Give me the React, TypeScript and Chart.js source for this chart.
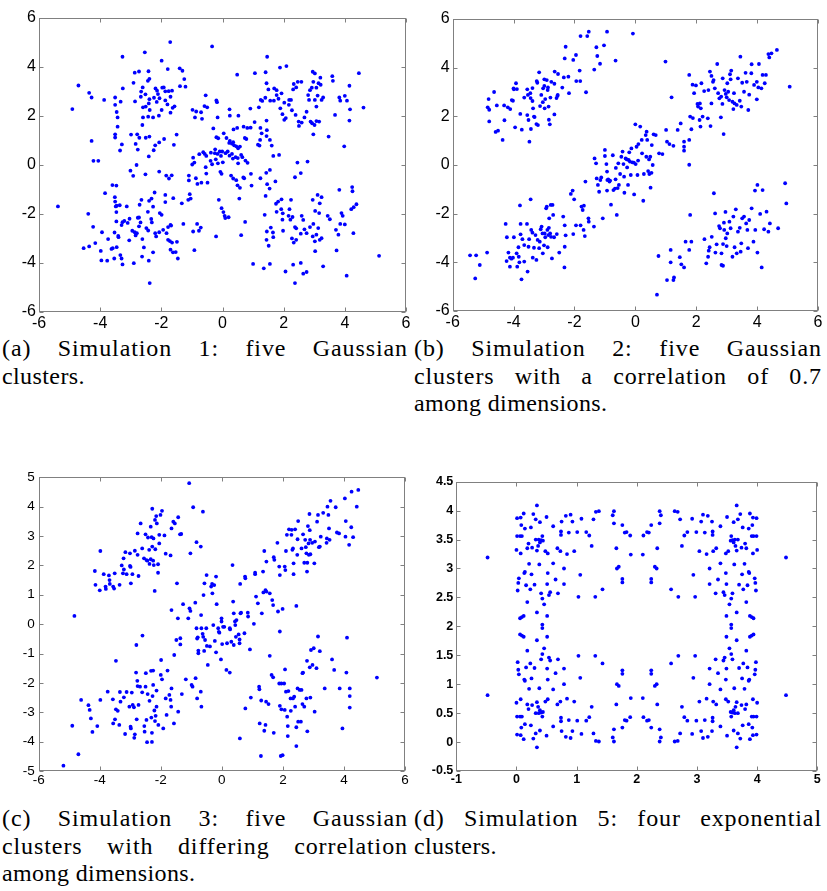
import React, { useEffect, useRef } from 'react';
import { Chart, registerables } from 'chart.js';

Chart.register(...registerables);

type Pt = [number, number];

// ---------- Simulation 1 (a) ----------
const sim1TopLeft: Pt[] = [[-4.71,3.23],[-4.91,2.27],[-4.36,2.93],[-4.28,2.74],[-4.28,0.97],[-4.22,0.16],[-4.06,0.16],[-3.87,2.64],[-3.51,2.74],[-3.33,2.57],[-3.27,4.40],[-3.26,3.11],[-3.51,2.44],[-3.46,2.15],[-3.43,1.93],[-3.43,1.55],[-3.51,1.24],[-3.51,1.11],[-3.35,0.58],[-3.29,0.83],[-2.91,3.34],[-2.87,3.75],[-2.73,3.80],[-2.42,3.81],[-2.39,3.50],[-2.44,3.42],[-2.54,4.58],[-1.99,4.24],[-1.71,5.00],[-1.79,3.90],[-1.40,3.93],[-1.31,3.83],[-1.25,3.49],[-1.21,3.18],[-1.39,3.20],[-2.66,2.98],[-2.61,3.15],[-2.67,2.77],[-2.52,2.87],[-2.39,2.67],[-2.41,2.50],[-2.19,3.11],[-2.14,3.02],[-1.97,3.14],[-1.92,3.15],[-1.87,2.99],[-1.76,3.00],[-1.65,3.02],[-1.70,2.77],[-2.24,2.73],[-2.11,2.88],[-2.06,2.71],[-2.15,2.56],[-1.87,2.62],[-1.80,2.46],[-1.63,2.32],[-1.57,2.38],[-1.70,2.12],[-2.86,2.58],[-2.60,2.34],[-2.51,2.37],[-2.38,2.23],[-2.60,1.93],[-2.43,1.96],[-2.27,1.93],[-2.62,1.62],[-1.99,2.23],[-2.08,2.00],[-2.99,1.23],[-2.79,1.24],[-2.72,1.10],[-2.51,1.10],[-2.84,0.85],[-2.77,0.62],[-2.39,1.15],[-2.41,0.34],[-2.20,0.79],[-2.07,0.91],[-1.91,1.05],[-2.25,0.59],[-1.59,0.81],[-1.50,1.23],[-2.81,-0.01],[-3.01,-0.24],[-2.92,-0.45],[-2.52,-0.39],[-2.07,-0.28],[-1.75,-0.56],[-1.66,-0.43],[-1.84,-0.44]];
const sim1BottomLeft: Pt[] = [[-5.38,-1.70],[-3.60,-0.83],[-3.47,-0.85],[-3.84,-1.16],[-3.52,-1.32],[-3.51,-1.50],[-3.46,-1.67],[-4.39,-2.00],[-4.23,-2.53],[-4.16,-3.19],[-4.54,-3.40],[-4.36,-3.33],[-3.94,-2.75],[-3.98,-3.51],[-3.96,-3.90],[-3.77,-3.91],[-3.74,-3.03],[-3.63,-3.43],[-3.59,-3.40],[-3.46,-3.36],[-3.53,-2.76],[-3.41,-2.90],[-3.40,-2.95],[-3.54,-3.82],[-3.49,-1.70],[-3.47,-1.93],[-3.47,-2.31],[-3.36,-1.65],[-3.27,-2.34],[-3.30,-2.46],[-3.34,-3.68],[-3.30,-3.82],[-3.27,-4.06],[-3.21,-2.29],[-3.13,-1.70],[-3.10,-2.37],[-3.05,-3.08],[-3.04,-2.20],[-2.95,-2.69],[-2.87,-2.75],[-2.90,-4.01],[-2.84,-2.88],[-2.80,-2.79],[-2.71,-1.63],[-2.65,-1.43],[-2.73,-2.15],[-2.68,-2.35],[-2.62,-3.03],[-2.57,-3.37],[-2.63,-3.74],[-2.77,-2.16],[-2.73,-2.51],[-2.49,-2.58],[-2.43,-2.68],[-2.41,-3.91],[-2.38,-4.82],[-2.44,-1.92],[-2.40,-1.47],[-2.32,-1.38],[-2.22,-1.13],[-2.27,-1.71],[-2.33,-2.21],[-2.31,-2.35],[-2.20,-2.79],[-2.17,-2.92],[-2.27,-3.57],[-2.07,-2.75],[-2.05,-1.97],[-1.99,-2.04],[-1.94,-2.65],[-1.87,-1.23],[-1.87,-1.52],[-1.83,-2.79],[-1.78,-2.54],[-1.70,-2.45],[-1.68,-2.48],[-1.78,-3.06],[-1.72,-3.11],[-1.65,-3.17],[-1.70,-3.46],[-1.62,-3.57],[-1.53,-3.56],[-1.49,-3.14],[-1.46,-3.82],[-1.61,-1.36],[-1.33,-1.57],[-1.28,-2.41],[-1.04,-1.38],[-1.12,-1.43],[-1.07,-1.20],[-0.96,-2.72],[-0.92,-3.48],[-0.83,-2.41],[-0.71,-2.56],[-0.77,-2.69]];
const sim1Center: Pt[] = [[-0.98,2.24],[-0.86,2.17],[-0.90,1.93],[-0.70,2.14],[-0.59,2.39],[-0.50,2.34],[-0.67,1.87],[-0.55,2.83],[-0.34,4.82],[-0.20,2.62],[-0.18,2.55],[-0.16,1.93],[-0.30,1.48],[-0.96,0.29],[-0.92,0.09],[-0.99,0.01],[-0.76,0.43],[-0.63,0.51],[-0.58,0.44],[-0.53,0.36],[-0.38,0.49],[-1.10,-0.44],[-1.10,-0.64],[-0.87,-0.55],[-0.82,-0.78],[-0.69,-0.73],[-0.53,-0.36],[-0.49,-0.73],[-0.55,-0.10],[-0.39,0.16],[-0.34,0.02],[-0.22,0.22],[-0.25,0.47],[-0.16,0.44],[-0.15,0.06],[-0.09,0.54],[-0.01,0.54],[-0.05,0.36],[0.01,0.10],[-0.07,-0.29],[-0.03,-0.37],[-0.20,1.12],[-0.14,1.08],[-0.24,0.63],[0.04,1.28],[0.13,1.09],[0.24,0.97],[0.22,0.89],[0.31,0.86],[0.35,0.92],[0.38,0.79],[0.45,0.75],[0.51,0.67],[0.57,0.74],[0.10,0.47],[0.17,0.54],[0.23,0.37],[0.31,0.44],[0.34,0.25],[0.43,0.31],[0.50,0.27],[0.51,0.06],[0.61,0.40],[0.65,0.31],[0.75,0.17],[0.82,0.08],[0.24,2.00],[0.23,2.26],[0.52,2.00],[0.48,3.67],[0.36,1.44],[0.48,1.50],[0.69,1.55],[0.81,1.50],[0.92,1.51],[0.91,2.29],[0.73,1.09],[0.78,1.05],[1.05,1.74],[0.28,-0.44],[0.35,-0.56],[0.45,-0.63],[0.49,-0.84],[0.57,-0.94],[0.55,-1.38],[0.71,-0.55],[0.93,-0.37],[0.95,-0.85],[0.68,-0.52],[0.61,-2.87],[-0.12,-1.43],[-0.03,-1.77],[0.03,-1.93],[0.07,-2.08],[0.09,-2.17],[0.20,-2.14],[-0.21,-2.92],[0.74,-2.33],[1.16,0.82],[1.21,0.78],[1.28,1.28],[1.24,1.50],[1.23,1.01],[1.44,1.17],[1.45,1.41],[1.55,1.01],[1.61,0.78],[1.43,-0.33],[1.46,-0.79],[1.55,-0.21],[1.66,0.36],[1.85,0.40],[1.41,-1.27],[1.54,-0.97],[1.73,-0.68],[1.24,-0.55]];
const sim1TopRight: Pt[] = [[1.06,3.73],[1.41,3.77],[1.46,4.40],[1.44,3.32],[1.50,3.07],[1.25,2.64],[1.30,2.60],[1.19,2.34],[1.40,2.73],[1.44,1.80],[1.56,2.61],[1.69,3.11],[1.77,3.04],[1.77,2.84],[1.83,2.69],[1.93,2.91],[1.68,2.61],[1.88,3.96],[2.09,4.02],[2.18,2.64],[2.02,2.53],[1.89,2.30],[1.96,2.06],[2.02,1.83],[2.07,1.90],[2.17,2.44],[2.24,2.64],[2.27,2.22],[2.33,3.29],[2.41,3.15],[2.46,3.38],[2.58,3.38],[2.31,3.07],[2.39,2.03],[2.49,1.76],[2.50,1.58],[2.59,1.72],[2.68,1.93],[2.75,2.16],[2.83,2.64],[2.86,3.04],[2.92,3.14],[2.97,3.38],[3.02,3.72],[2.95,3.79],[3.07,3.14],[3.14,3.32],[3.20,3.55],[3.21,3.26],[2.80,2.84],[3.02,2.64],[3.07,2.37],[3.11,2.82],[2.88,1.76],[2.93,1.69],[3.01,1.62],[3.07,1.78],[3.16,1.76],[2.97,1.24],[3.24,2.64],[3.59,3.61],[3.61,3.42],[3.29,2.74],[3.68,2.03],[3.47,1.15],[3.82,2.74],[3.85,2.61],[4.00,2.81],[4.07,2.61],[4.15,3.22],[4.17,2.26],[4.15,1.80],[3.98,0.75],[4.46,3.73],[4.61,2.33],[2.45,0.09],[2.56,-0.34],[2.37,-0.51],[2.78,0.13]];
const sim1BottomRight: Pt[] = [[1.00,-4.04],[1.35,-4.22],[1.55,-4.04],[1.51,-3.30],[1.38,-2.04],[1.45,-2.72],[1.44,-3.06],[1.58,-2.56],[1.65,-2.76],[1.66,-2.95],[1.82,-1.50],[1.92,-1.81],[1.97,-1.98],[1.93,-1.41],[1.75,-1.59],[1.77,-1.92],[1.96,-2.24],[1.98,-2.69],[2.06,-4.35],[2.19,-1.81],[2.16,-2.08],[2.24,-1.43],[2.29,-2.13],[2.22,-2.24],[2.27,-3.00],[2.33,-3.17],[2.41,-3.06],[2.37,-2.54],[2.41,-2.59],[2.31,-4.07],[2.37,-4.82],[2.59,-2.08],[2.56,-2.81],[2.64,-2.25],[2.68,-2.63],[2.75,-2.79],[2.86,-2.54],[2.95,-2.92],[2.97,-2.41],[3.02,-3.12],[3.07,-2.85],[2.56,-4.00],[2.64,-4.44],[2.75,-4.37],[2.95,-1.43],[3.11,-1.23],[3.16,-1.97],[3.03,-1.88],[3.18,-1.57],[3.24,-1.32],[3.18,-3.06],[3.24,-2.99],[3.29,-4.14],[3.03,-3.52],[3.13,-2.58],[3.44,-2.08],[3.51,-2.22],[3.71,-2.65],[3.85,-2.41],[3.89,-1.97],[3.93,-2.08],[4.00,-2.43],[3.79,-2.85],[3.73,-3.49],[3.82,-1.02],[4.24,-0.91],[4.25,-1.08],[4.21,-1.81],[4.29,-1.73],[4.38,-1.61],[4.28,-2.79],[4.06,-4.52],[5.12,-3.71]];

// ---------- Simulation 2 (b) ----------
const sim2TopLeft: Pt[] = [[-4.82,2.71],[-4.85,2.37],[-4.80,2.27],[-4.80,1.79],[-4.64,3.00],[-4.55,2.45],[-4.59,1.36],[-4.51,1.41],[-4.36,1.03],[-4.31,2.45],[-4.30,1.84],[-4.19,2.37],[-4.11,2.30],[-4.06,2.67],[-4.02,2.64],[-3.95,1.55],[-4.00,3.15],[-3.92,3.36],[-3.99,3.11],[-3.89,3.12],[-3.78,2.10],[-3.73,1.45],[-3.65,2.77],[-3.55,3.11],[-3.48,0.96],[-3.53,2.88],[-3.44,2.75],[-3.45,2.95],[-3.38,3.16],[-3.38,2.63],[-3.36,2.33],[-3.43,1.48],[-3.55,2.05],[-3.51,1.85],[-3.33,1.99],[-3.31,1.97],[-3.25,1.68],[-3.20,1.64],[-3.16,3.81],[-3.22,3.38],[-3.24,3.45],[-3.09,2.88],[-3.03,3.15],[-2.99,3.52],[-2.99,3.25],[-2.91,3.49],[-2.88,3.08],[-2.87,3.19],[-2.85,2.40],[-2.84,1.86],[-2.81,1.67],[-2.96,2.71],[-3.04,2.58],[-3.13,2.42],[-2.98,2.33],[-2.79,2.77],[-2.76,3.42],[-2.66,3.34],[-2.66,2.08],[-2.59,2.75],[-2.56,2.84],[-2.55,2.88],[-2.65,3.84],[-2.54,3.74],[-2.40,3.18],[-2.35,3.60],[-2.32,4.38],[-2.29,4.86],[-2.20,3.63],[-2.18,2.95],[-2.04,4.32],[-1.95,4.52],[-1.94,3.45],[-1.83,3.88],[-1.81,3.45],[-1.80,5.30],[-1.62,2.99],[-1.58,5.30],[-1.53,5.48],[-1.35,3.92],[-1.28,4.84],[-1.25,4.48],[-1.16,4.16],[-1.03,4.92],[-0.93,5.48],[-0.65,4.29],[-0.08,5.40]];
const sim2BottomLeft: Pt[] = [[-5.43,-3.71],[-5.26,-4.66],[-5.23,-3.71],[-5.11,-4.11],[-4.87,-3.60],[-4.26,-2.42],[-4.22,-2.97],[-4.23,-3.95],[-4.17,-3.60],[-4.12,-3.81],[-4.12,-4.18],[-4.07,-3.85],[-4.02,-3.81],[-3.99,-2.97],[-3.90,-3.63],[-3.88,-4.18],[-3.84,-3.38],[-3.83,-3.77],[-3.81,-4.00],[-3.79,-1.66],[-3.77,-2.42],[-3.77,-2.85],[-3.74,-4.70],[-3.71,-3.05],[-3.65,-3.29],[-3.65,-3.97],[-3.56,-2.42],[-3.54,-4.38],[-3.51,-3.36],[-3.49,-3.05],[-3.44,-1.41],[-3.42,-2.67],[-3.38,-2.78],[-3.37,-3.81],[-3.33,-3.40],[-3.28,-2.88],[-3.25,-3.90],[-3.21,-3.08],[-3.16,-3.42],[-3.14,-3.15],[-3.11,-2.64],[-3.08,-2.53],[-3.05,-2.81],[-3.04,-3.63],[-3.00,-3.30],[-2.98,-2.81],[-2.96,-2.97],[-2.93,-1.78],[-2.91,-1.71],[-2.89,-2.67],[-2.88,-3.38],[-2.86,-2.88],[-2.84,-2.58],[-2.83,-2.19],[-2.80,-2.81],[-2.78,-1.64],[-2.77,-2.95],[-2.74,-3.84],[-2.72,-1.64],[-2.70,-2.05],[-2.67,-2.97],[-2.58,-2.84],[-2.50,-3.60],[-2.37,-2.12],[-2.33,-4.21],[-2.32,-2.48],[-2.32,-3.36],[-2.29,-2.89],[-2.12,-1.19],[-2.06,-1.05],[-2.04,-2.84],[-2.01,-1.41],[-1.95,-2.48],[-1.80,-2.48],[-1.77,-1.71],[-1.73,-1.85],[-1.70,-2.67],[-1.69,-1.67],[-1.66,-2.92],[-1.64,-0.68],[-1.54,-2.19],[-1.53,-2.33],[-1.36,-2.53],[-1.23,-0.82],[-1.19,-1.10],[-1.07,-2.19]];
const sim2Center: Pt[] = [[-1.34,0.27],[-1.29,0.07],[-1.27,-0.55],[-1.15,-0.62],[-1.12,-0.51],[-1.00,0.62],[-1.00,0.37],[-0.95,0.04],[-0.93,-0.27],[-0.92,-0.62],[-0.93,-1.05],[-0.89,-0.59],[-0.85,-0.68],[-0.83,-0.64],[-0.80,-1.63],[-0.74,0.40],[-0.72,-1.03],[-0.67,-0.97],[-0.65,-0.59],[-0.64,-0.12],[-0.61,-2.05],[-0.58,-0.95],[-0.56,0.07],[-0.54,-0.82],[-0.50,-0.37],[-0.46,0.34],[-0.42,0.55],[-0.39,0.04],[-0.37,-0.48],[-0.36,-1.14],[-0.32,0.27],[-0.28,0.23],[-0.27,-0.10],[-0.24,-0.82],[-0.22,0.21],[-0.20,0.52],[-0.18,0.14],[-0.15,-0.41],[-0.13,0.68],[-0.10,0.11],[-0.05,0.10],[-0.04,-1.21],[0.00,1.67],[0.01,0.04],[0.04,0.75],[0.07,-0.41],[0.09,0.18],[0.10,0.86],[0.16,1.58],[0.21,1.03],[0.22,0.48],[0.26,-1.47],[0.28,-0.37],[0.34,1.23],[0.36,0.34],[0.37,1.37],[0.39,1.03],[0.42,-0.25],[0.45,0.23],[0.46,-0.37],[0.49,0.34],[0.50,-0.93],[0.53,-0.32],[0.54,0.82],[0.57,0.00],[0.60,1.26],[0.67,1.23],[0.78,0.48],[0.89,0.45],[0.99,4.25],[1.01,1.44],[1.04,0.96],[1.12,0.86],[1.19,2.78],[1.25,0.79],[1.39,1.44],[1.49,1.71],[1.60,0.96],[1.60,0.75],[1.60,0.59],[1.77,1.03],[1.77,0.01],[1.84,1.47],[1.80,1.99],[1.89,1.93],[2.11,1.85],[2.14,1.58],[2.21,1.99],[2.38,1.92],[2.47,1.60]];
const sim2TopRight: Pt[] = [[1.77,3.70],[1.88,3.30],[1.93,2.95],[1.99,3.27],[2.04,2.51],[2.06,2.40],[2.12,2.53],[2.15,2.33],[2.17,3.36],[2.26,3.04],[2.40,3.08],[2.45,3.84],[2.50,3.66],[2.55,3.42],[2.57,3.49],[2.61,3.15],[2.50,2.53],[2.69,4.15],[2.72,2.95],[2.76,2.74],[2.82,2.81],[2.81,1.96],[2.86,2.51],[2.87,3.56],[2.90,1.27],[2.93,3.08],[2.97,2.92],[3.00,2.78],[3.02,3.36],[3.05,3.01],[3.08,2.67],[3.11,3.73],[3.13,3.52],[3.15,3.88],[3.19,2.60],[3.22,2.30],[3.24,2.95],[3.26,2.53],[3.33,2.47],[3.37,3.56],[3.43,2.64],[3.45,4.45],[3.48,2.40],[3.51,3.38],[3.57,3.01],[3.62,3.79],[3.66,3.42],[3.71,2.26],[3.74,2.89],[3.81,3.77],[3.82,4.14],[3.90,3.29],[3.99,2.70],[3.99,3.42],[4.04,3.19],[4.06,4.15],[4.14,3.15],[4.18,3.70],[4.25,3.36],[4.29,3.70],[4.37,4.56],[4.40,4.42],[4.47,4.59],[4.65,4.73],[5.07,3.22]];
const sim2BottomRight: Pt[] = [[0.76,-3.74],[0.71,-5.33],[1.04,-4.73],[1.16,-3.49],[1.16,-4.00],[1.25,-4.73],[1.27,-4.62],[1.46,-3.79],[1.51,-4.08],[1.60,-4.21],[1.65,-3.15],[1.77,-3.49],[1.80,-2.05],[1.84,-3.15],[2.27,-3.05],[2.33,-4.04],[2.39,-3.77],[2.41,-3.52],[2.44,-3.38],[2.51,-2.95],[2.58,-1.16],[2.62,-1.99],[2.63,-3.60],[2.67,-3.26],[2.75,-2.51],[2.78,-2.60],[2.83,-4.11],[2.83,-3.63],[2.88,-3.25],[2.88,-4.14],[2.91,-2.37],[2.92,-2.67],[2.96,-1.93],[2.97,-3.01],[3.00,-3.33],[3.02,-2.81],[3.09,-2.33],[3.13,-2.60],[3.19,-3.77],[3.22,-2.12],[3.26,-3.38],[3.30,-1.82],[3.33,-3.63],[3.37,-2.74],[3.43,-2.58],[3.46,-3.56],[3.48,-3.22],[3.51,-2.19],[3.57,-2.12],[3.64,-2.40],[3.68,-2.67],[3.70,-3.42],[3.74,-2.26],[3.82,-1.78],[3.88,-3.15],[3.94,-2.67],[3.93,-1.05],[4.01,-0.82],[4.01,-3.60],[4.10,-2.01],[4.15,-4.21],[4.18,-1.03],[4.23,-2.64],[4.31,-1.92],[4.37,-2.74],[4.42,-2.40],[4.69,-2.60],[4.92,-0.75],[4.96,-1.58]];

// ---------- Simulation 3 (c) ----------
const sim3TopLeft: Pt[] = [[-4.83,0.28],[-4.16,1.81],[-4.14,1.34],[-4.00,1.15],[-3.98,2.49],[-3.87,1.70],[-3.81,1.28],[-3.80,1.20],[-3.70,1.66],[-3.68,1.50],[-3.67,1.37],[-3.56,1.28],[-3.53,1.21],[-3.51,1.73],[-3.35,1.34],[-3.28,2.00],[-3.24,1.73],[-3.22,2.24],[-3.21,1.86],[-3.16,2.45],[-3.12,1.70],[-3.01,1.98],[-3.01,2.41],[-2.99,1.95],[-2.98,1.39],[-2.93,1.70],[-2.85,2.50],[-2.76,3.09],[-2.76,2.36],[-2.73,1.64],[-2.66,3.43],[-2.61,2.58],[-2.55,2.24],[-2.50,3.06],[-2.47,2.18],[-2.44,2.16],[-2.42,2.95],[-2.38,2.53],[-2.37,2.05],[-2.33,3.32],[-2.33,2.21],[-2.30,2.96],[-2.28,3.93],[-2.28,2.64],[-2.25,2.16],[-2.24,2.92],[-2.23,2.01],[-2.20,1.13],[-2.19,3.55],[-2.18,2.55],[-2.15,3.68],[-2.13,3.43],[-2.09,2.04],[-2.09,1.75],[-2.05,2.75],[-2.05,3.04],[-2.01,3.72],[-1.96,3.86],[-1.88,3.02],[-1.84,2.40],[-1.68,2.34],[-1.65,3.26],[-1.59,3.49],[-1.54,3.43],[-1.47,1.39],[-1.43,3.64],[-1.37,3.06],[-1.33,3.07],[-1.07,4.80],[-1.03,2.41],[-0.94,3.98],[-0.83,2.79],[-0.69,2.64],[-0.62,3.83]];
const sim3Center: Pt[] = [[-2.60,-0.39],[-2.80,-0.71],[-3.47,-1.25],[-1.99,-1.22],[-1.65,0.48],[-1.56,-1.05],[-1.49,-0.54],[-1.44,0.20],[-1.36,-0.48],[-1.36,-0.69],[-1.27,0.68],[-1.10,0.20],[-1.06,0.54],[-1.03,0.45],[-0.87,0.73],[-0.83,-0.14],[-0.81,-0.49],[-0.79,-0.45],[-0.77,-0.90],[-0.77,-0.99],[-0.68,0.31],[-0.67,-0.14],[-0.63,-0.33],[-0.61,-0.43],[-0.60,0.99],[-0.58,-0.91],[-0.57,1.39],[-0.55,-0.54],[-0.51,-0.14],[-0.50,1.67],[-0.49,-0.74],[-0.46,-1.39],[-0.39,-0.76],[-0.35,1.28],[-0.32,1.37],[-0.31,1.05],[-0.28,-0.03],[-0.25,1.33],[-0.23,-0.57],[-0.19,1.62],[-0.19,-0.96],[-0.17,0.68],[-0.12,-0.14],[-0.10,-0.26],[-0.08,-0.29],[-0.03,-1.20],[-0.01,0.20],[-0.01,0.09],[0.01,-0.68],[0.04,-0.09],[0.08,-0.09],[0.15,-1.56],[0.17,-0.65],[0.26,-1.65],[0.26,-0.14],[0.27,-0.18],[0.31,-0.60],[0.35,2.01],[0.37,0.77],[0.39,0.37],[0.39,-0.71],[0.43,0.09],[0.44,-0.03],[0.46,-0.43],[0.48,0.14],[0.55,-0.35],[0.58,-0.52],[0.60,1.37],[0.58,-0.65],[0.61,0.37],[0.63,0.39],[0.74,-0.31],[0.76,1.62],[0.77,1.56],[0.85,0.39],[0.86,0.26],[0.92,-0.86],[1.05,0.01],[1.09,1.70],[1.09,1.75],[1.12,0.94],[1.18,0.71],[1.31,0.37],[1.36,1.08],[1.43,1.16],[1.46,1.11],[1.57,1.05],[1.65,0.82],[1.68,0.65],[1.84,0.43],[1.90,-0.25],[1.99,0.52],[2.44,0.62]];
const sim3TopRight: Pt[] = [[1.39,2.49],[1.46,2.13],[1.35,1.79],[1.70,2.28],[1.72,2.19],[1.82,2.77],[1.88,1.96],[1.90,1.67],[2.06,1.96],[2.08,1.84],[2.10,2.49],[2.13,3.04],[2.20,3.23],[2.28,3.04],[2.29,3.21],[2.31,2.53],[2.33,2.58],[2.35,1.70],[2.35,2.07],[2.40,3.23],[2.47,2.36],[2.48,2.89],[2.50,3.51],[2.61,2.58],[2.66,3.06],[2.70,2.09],[2.73,2.87],[2.75,2.62],[2.77,2.41],[2.79,1.79],[2.80,2.09],[2.82,3.34],[2.84,2.75],[2.85,2.36],[2.87,3.75],[2.88,3.20],[2.89,2.87],[2.90,2.38],[2.96,2.77],[3.03,2.07],[3.05,2.81],[3.12,3.49],[3.15,3.72],[3.18,2.62],[3.21,2.64],[3.24,2.98],[3.32,3.79],[3.43,2.77],[3.44,2.92],[3.46,4.00],[3.49,3.72],[3.51,3.26],[3.53,2.87],[3.56,4.20],[3.73,3.98],[3.77,3.12],[3.84,3.09],[4.03,4.28],[4.06,3.51],[4.05,2.98],[4.17,2.70],[4.24,3.30],[4.25,4.51],[4.30,2.96],[4.42,4.00],[4.47,4.57]];
const sim3BottomLeft: Pt[] = [[-5.19,-4.82],[-4.90,-3.46],[-4.70,-4.43],[-4.61,-2.58],[-4.37,-2.76],[-4.33,-2.92],[-4.29,-3.21],[-4.24,-3.67],[-4.08,-3.47],[-3.98,-2.58],[-3.74,-2.30],[-3.57,-2.56],[-3.56,-3.38],[-3.50,-3.24],[-3.47,-2.90],[-3.41,-2.95],[-3.36,-3.43],[-3.34,-2.31],[-3.32,-2.64],[-3.21,-2.49],[-3.17,-3.74],[-3.12,-2.31],[-3.03,-2.81],[-2.99,-3.49],[-2.98,-3.55],[-2.95,-2.33],[-2.92,-2.75],[-2.88,-2.83],[-2.87,-3.87],[-2.85,-3.75],[-2.81,-1.65],[-2.79,-3.24],[-2.77,-1.93],[-2.76,-2.11],[-2.73,-2.75],[-2.68,-2.13],[-2.61,-2.32],[-2.54,-3.47],[-2.53,-3.66],[-2.50,-2.13],[-2.49,-1.67],[-2.47,-3.26],[-2.45,-4.02],[-2.43,-2.38],[-2.37,-2.61],[-2.32,-1.59],[-2.31,-3.18],[-2.29,-3.70],[-2.29,-4.01],[-2.27,-2.45],[-2.25,-1.58],[-2.25,-2.07],[-2.21,-2.94],[-2.19,-3.30],[-2.17,-3.12],[-2.14,-2.81],[-2.14,-2.26],[-2.08,-3.43],[-2.00,-1.73],[-1.96,-1.88],[-1.92,-3.55],[-1.84,-2.53],[-1.81,-3.09],[-1.78,-1.58],[-1.72,-2.41],[-1.68,-2.58],[-1.66,-2.81],[-1.65,-2.19],[-1.57,-3.38],[-1.43,-2.98],[-1.31,-2.38],[-1.18,-1.88],[-0.99,-2.07],[-0.96,-2.13],[-0.86,-1.84],[-0.81,-2.53],[-0.69,-2.30],[-0.67,-2.81]];
const sim3BottomRight: Pt[] = [[0.59,-3.89],[0.77,-2.87],[0.95,-2.50],[1.22,-2.13],[1.23,-2.22],[1.24,-3.38],[1.28,-4.49],[1.29,-2.60],[1.39,-3.63],[1.43,-3.43],[1.45,-2.64],[1.53,-2.72],[1.57,-1.08],[1.63,-1.73],[1.68,-1.81],[1.70,-3.70],[1.88,-2.02],[1.90,-2.78],[1.95,-2.02],[1.95,-2.90],[1.93,-4.49],[1.99,-4.46],[2.04,-2.02],[2.06,-2.92],[2.07,-1.54],[2.10,-2.30],[2.14,-3.15],[2.16,-3.47],[2.16,-3.81],[2.18,-2.28],[2.25,-2.53],[2.26,-2.95],[2.33,-2.53],[2.37,-2.47],[2.40,-2.81],[2.44,-4.15],[2.44,-3.51],[2.48,-2.19],[2.50,-3.32],[2.55,-2.24],[2.59,-3.32],[2.61,-2.24],[2.64,-1.67],[2.66,-1.65],[2.64,-2.72],[2.70,-2.81],[2.77,-2.53],[2.79,-1.25],[2.80,-3.65],[2.88,-1.47],[2.90,-2.50],[2.92,-0.88],[2.97,-1.39],[3.01,-0.82],[3.04,-2.98],[3.10,-1.50],[3.15,-0.42],[3.21,-0.92],[3.37,-2.19],[3.61,-1.20],[3.68,-1.56],[3.86,-2.19],[3.95,-3.55],[4.08,-1.65],[4.10,-0.46],[4.19,-2.19],[4.19,-2.45],[4.19,-2.84],[5.08,-1.82]];

// ---------- Simulation 5 (d) ----------
const sim5NearOrigin: Pt[] = [[-0.48,0.81],[0.00,0.68],[0.01,0.44],[0.01,0.13],[0.02,1.38],[0.03,1.25],[0.04,1.17],[0.06,0.44],[0.07,0.12],[0.07,0.74],[0.08,0.25],[0.09,0.44],[0.12,0.05],[0.13,1.08],[0.14,1.06],[0.14,0.31],[0.16,1.29],[0.18,1.58],[0.18,0.65],[0.20,0.57],[0.21,0.92],[0.23,1.36],[0.24,0.29],[0.25,1.10],[0.26,0.64],[0.28,0.06],[0.30,1.28],[0.32,0.50],[0.32,0.15],[0.34,-0.09],[0.34,1.76],[0.34,0.69],[0.36,0.61],[0.37,0.50],[0.38,0.93],[0.39,0.55],[0.39,0.20],[0.41,1.43],[0.41,0.51],[0.43,0.44],[0.43,1.52],[0.44,0.52],[0.46,1.62],[0.48,0.70],[0.50,0.11],[0.51,1.27],[0.51,1.82],[0.52,0.74],[0.52,1.08],[0.54,1.46],[0.56,1.41],[0.61,0.91],[0.61,0.27],[0.65,1.19],[0.68,0.65],[0.69,1.43],[0.73,0.70],[0.74,0.42],[0.74,0.36],[0.75,0.19],[0.79,1.00],[0.79,1.27],[0.82,0.09],[0.84,0.75],[0.87,0.38],[0.90,0.07],[0.93,0.19],[0.96,0.70],[1.01,0.37],[1.03,1.49],[1.06,1.11],[1.08,0.14],[1.16,0.37],[1.21,0.43],[1.25,0.61],[1.28,0.15],[1.31,1.49],[1.32,0.02],[1.37,0.01],[1.43,1.36],[1.60,0.08],[1.62,0.01],[1.62,0.22],[1.66,0.65],[1.67,1.00],[1.70,0.97],[1.76,1.18],[1.76,1.24],[1.76,0.25],[1.80,0.38],[1.83,0.37],[1.90,0.76],[1.89,0.43],[0.06,1.86],[0.09,1.84],[0.12,1.82],[0.43,1.97]];
const sim5TopLeft: Pt[] = [[-0.48,3.19],[0.00,3.32],[0.01,3.56],[0.01,3.87],[0.02,2.62],[0.03,2.75],[0.04,2.83],[0.06,3.56],[0.07,3.88],[0.07,3.26],[0.08,3.75],[0.09,3.56],[0.12,3.95],[0.13,2.92],[0.14,2.94],[0.14,3.69],[0.16,2.71],[0.18,2.42],[0.18,3.35],[0.20,3.43],[0.21,3.08],[0.23,2.64],[0.24,3.71],[0.25,2.90],[0.26,3.36],[0.28,3.94],[0.30,2.72],[0.32,3.50],[0.32,3.85],[0.34,4.09],[0.34,2.24],[0.34,3.31],[0.36,3.39],[0.37,3.50],[0.38,3.07],[0.39,3.45],[0.39,3.80],[0.41,2.57],[0.41,3.49],[0.43,3.56],[0.43,2.48],[0.44,3.48],[0.46,2.38],[0.48,3.30],[0.50,3.89],[0.51,2.73],[0.51,2.18],[0.52,3.26],[0.52,2.92],[0.54,2.54],[0.56,2.59],[0.61,3.09],[0.61,3.73],[0.65,2.81],[0.68,3.35],[0.69,2.57],[0.73,3.30],[0.74,3.58],[0.74,3.64],[0.75,3.81],[0.79,3.00],[0.79,2.73],[0.82,3.91],[0.84,3.25],[0.87,3.62],[0.90,3.93],[0.93,3.81],[0.96,3.30],[1.01,3.63],[1.03,2.51],[1.06,2.89],[1.08,3.86],[1.16,3.63],[1.21,3.57],[1.25,3.39],[1.28,3.85],[1.31,2.51],[1.32,3.98],[1.37,3.99],[1.43,2.64],[1.60,3.92],[1.62,3.99],[1.62,3.78],[1.66,3.35],[1.67,3.00],[1.70,3.03],[1.76,2.82],[1.76,2.76],[1.76,3.75],[1.80,3.62],[1.83,3.63],[1.90,3.24],[1.89,3.57],[0.06,2.14],[0.09,2.16],[0.12,2.18],[0.43,2.03]];
const sim5BottomRight: Pt[] = [[4.48,0.81],[4.00,0.68],[3.99,0.44],[3.99,0.13],[3.98,1.38],[3.97,1.25],[3.96,1.17],[3.94,0.44],[3.93,0.12],[3.93,0.74],[3.92,0.25],[3.91,0.44],[3.88,0.05],[3.87,1.08],[3.86,1.06],[3.86,0.31],[3.84,1.29],[3.82,1.58],[3.82,0.65],[3.80,0.57],[3.79,0.92],[3.77,1.36],[3.76,0.29],[3.75,1.10],[3.74,0.64],[3.72,0.06],[3.70,1.28],[3.68,0.50],[3.68,0.15],[3.66,-0.09],[3.66,1.76],[3.66,0.69],[3.64,0.61],[3.63,0.50],[3.62,0.93],[3.61,0.55],[3.61,0.20],[3.59,1.43],[3.59,0.51],[3.57,0.44],[3.57,1.52],[3.56,0.52],[3.54,1.62],[3.52,0.70],[3.50,0.11],[3.49,1.27],[3.49,1.82],[3.48,0.74],[3.48,1.08],[3.46,1.46],[3.44,1.41],[3.39,0.91],[3.39,0.27],[3.35,1.19],[3.32,0.65],[3.31,1.43],[3.27,0.70],[3.26,0.42],[3.26,0.36],[3.25,0.19],[3.21,1.00],[3.21,1.27],[3.18,0.09],[3.16,0.75],[3.13,0.38],[3.10,0.07],[3.07,0.19],[3.04,0.70],[2.99,0.37],[2.97,1.49],[2.94,1.11],[2.92,0.14],[2.84,0.37],[2.79,0.43],[2.75,0.61],[2.72,0.15],[2.69,1.49],[2.68,0.02],[2.63,0.01],[2.57,1.36],[2.40,0.08],[2.38,0.01],[2.38,0.22],[2.34,0.65],[2.33,1.00],[2.30,0.97],[2.24,1.18],[2.24,1.24],[2.24,0.25],[2.20,0.38],[2.17,0.37],[2.10,0.76],[2.11,0.43],[3.94,1.86],[3.91,1.84],[3.88,1.82],[3.57,1.97]];
const sim5TopRight: Pt[] = [[4.48,3.19],[4.00,3.32],[3.99,3.56],[3.99,3.87],[3.98,2.62],[3.97,2.75],[3.96,2.83],[3.94,3.56],[3.93,3.88],[3.93,3.26],[3.92,3.75],[3.91,3.56],[3.88,3.95],[3.87,2.92],[3.86,2.94],[3.86,3.69],[3.84,2.71],[3.82,2.42],[3.82,3.35],[3.80,3.43],[3.79,3.08],[3.77,2.64],[3.76,3.71],[3.75,2.90],[3.74,3.36],[3.72,3.94],[3.70,2.72],[3.68,3.50],[3.68,3.85],[3.66,4.09],[3.66,2.24],[3.66,3.31],[3.64,3.39],[3.63,3.50],[3.62,3.07],[3.61,3.45],[3.61,3.80],[3.59,2.57],[3.59,3.49],[3.57,3.56],[3.57,2.48],[3.56,3.48],[3.54,2.38],[3.52,3.30],[3.50,3.89],[3.49,2.73],[3.49,2.18],[3.48,3.26],[3.48,2.92],[3.46,2.54],[3.44,2.59],[3.39,3.09],[3.39,3.73],[3.35,2.81],[3.32,3.35],[3.31,2.57],[3.27,3.30],[3.26,3.58],[3.26,3.64],[3.25,3.81],[3.21,3.00],[3.21,2.73],[3.18,3.91],[3.16,3.25],[3.13,3.62],[3.10,3.93],[3.07,3.81],[3.04,3.30],[2.99,3.63],[2.97,2.51],[2.94,2.89],[2.92,3.86],[2.84,3.63],[2.79,3.57],[2.75,3.39],[2.72,3.85],[2.69,2.51],[2.68,3.98],[2.63,3.99],[2.57,2.64],[2.40,3.92],[2.38,3.99],[2.38,3.78],[2.34,3.35],[2.33,3.00],[2.30,3.03],[2.24,2.82],[2.24,2.76],[2.24,3.75],[2.20,3.62],[2.17,3.63],[2.10,3.24],[2.11,3.57],[3.94,2.14],[3.91,2.16],[3.88,2.18],[3.57,2.03]];

// ---------- Captions ----------
const captionA = ['(a) Simulation 1: five Gaussian', 'clusters.'];
const captionB = ['(b) Simulation 2: five Gaussian', 'clusters with a correlation of 0.7', 'among dimensions.'];
const captionC = ['(c) Simulation 3: five Gaussian', 'clusters with differing correlation', 'among dimensions.'];
const captionD = ['(d) Simulation 5: four exponential', 'clusters.'];

const boxPlugin = {
  id: 'matlabBox',
  beforeDatasetsDraw(chart: any) {
    const { ctx, chartArea: a, scales } = chart;
    const L = 4;
    ctx.save();
    ctx.strokeStyle = '#808080';
    ctx.lineWidth = 1;
    const l = Math.round(a.left) + 0.5;
    const r = Math.round(a.right) - 0.5;
    const t = Math.round(a.top) + 0.5;
    const b = Math.round(a.bottom) - 0.5;
    ctx.strokeRect(l, t, r - l, b - t);
    ctx.beginPath();
    for (const tk of scales.x.ticks) {
      const px = Math.round(scales.x.getPixelForValue(tk.value)) + 0.5;
      ctx.moveTo(px, b); ctx.lineTo(px, b - L);
      ctx.moveTo(px, t); ctx.lineTo(px, t + L);
    }
    for (const tk of scales.y.ticks) {
      const py = Math.round(scales.y.getPixelForValue(tk.value)) + 0.5;
      ctx.moveTo(l, py); ctx.lineTo(l + L, py);
      ctx.moveTo(r, py); ctx.lineTo(r - L, py);
    }
    ctx.stroke();
    ctx.restore();
  },
};

type PanelProps = {
  left: number; top: number; width: number; height: number;
  series: Pt[][];
  xr: [number, number, number]; yr: [number, number, number];
  padTop: number; padRight: number; yW: number; xH: number;
  fontSize: number; bold?: boolean; padX: number; padY: number;
};

const fmt = (v: any) => String(Math.round(Number(v) * 100) / 100);

function Panel(p: PanelProps) {
  const ref = useRef<HTMLCanvasElement>(null);
  useEffect(() => {
    const font = { family: 'Arial, "Liberation Sans", Helvetica, sans-serif', size: p.fontSize, weight: p.bold ? 'bold' : 'normal' } as any;
    const pts = p.series.flat().map(([x, y]) => ({ x, y }));
    const chart = new Chart(ref.current as HTMLCanvasElement, {
      type: 'scatter',
      data: { datasets: [{ data: pts, backgroundColor: '#0000ff', borderWidth: 0, pointRadius: 1.9, pointHoverRadius: 1.9 }] },
      options: {
        responsive: false,
        animation: false,
        devicePixelRatio: 1,
        events: [],
        layout: { padding: { top: p.padTop, right: p.padRight, left: 0, bottom: 0 } },
        plugins: { legend: { display: false }, tooltip: { enabled: false } },
        scales: {
          x: {
            type: 'linear', min: p.xr[0], max: p.xr[1],
            grid: { display: false, drawTicks: false }, border: { display: false },
            ticks: { stepSize: p.xr[2], autoSkip: false, maxRotation: 0, color: '#000', font, padding: p.padX, callback: fmt },
            afterFit: (s: any) => { s.height = p.xH; },
          },
          y: {
            type: 'linear', min: p.yr[0], max: p.yr[1],
            grid: { display: false, drawTicks: false }, border: { display: false },
            ticks: { stepSize: p.yr[2], autoSkip: false, color: '#000', font, padding: p.padY, callback: fmt },
            afterFit: (s: any) => { s.width = p.yW; },
          },
        },
      } as any,
      plugins: [boxPlugin],
    });
    return () => chart.destroy();
  }, []);
  return (
    <canvas ref={ref} width={p.width} height={p.height}
      style={{ position: 'absolute', left: p.left, top: p.top, width: p.width, height: p.height }} />
  );
}

function Caption({ left, top, width, lines }: { left: number; top: number; width: number; lines: string[] }) {
  return (
    <div style={{
      position: 'absolute', left, top, width,
      fontFamily: '"Liberation Serif", "Times New Roman", serif', fontSize: 24, lineHeight: '27.5px',
      color: '#000',
    }}>
      {lines.map((ln, i) => {
        const full = i < lines.length - 1;
        return (
          <div key={i} style={{
            textAlign: full ? 'justify' : 'left', textAlignLast: full ? 'justify' : 'left',
            letterSpacing: full ? '0.9px' : '0.4px', whiteSpace: 'nowrap',
          } as any}>{ln}</div>
        );
      })}
    </div>
  );
}

export default function App() {
  return (
    <div style={{ position: 'absolute', left: 0, top: 0, width: 827, height: 891, background: '#fff', overflow: 'hidden' }}>
      <Panel left={0} top={0} width={414} height={335}
        series={[sim1TopLeft, sim1BottomLeft, sim1Center, sim1TopRight, sim1BottomRight]}
        xr={[-6, 6, 2]} yr={[-6, 6, 2]} padTop={17.5} padRight={8} yW={39} xH={23}
        fontSize={16} padX={2} padY={3} />
      <Panel left={414} top={0} width={413} height={335}
        series={[sim2TopLeft, sim2BottomLeft, sim2Center, sim2TopRight, sim2BottomRight]}
        xr={[-6, 6, 2]} yr={[-6, 6, 2]} padTop={19} padRight={9} yW={38.7} xH={24}
        fontSize={16} padX={2} padY={3} />
      <Panel left={0} top={440} width={414} height={350}
        series={[sim3TopLeft, sim3Center, sim3TopRight, sim3BottomLeft, sim3BottomRight]}
        xr={[-6, 6, 2]} yr={[-5, 5, 1]} padTop={37.3} padRight={9} yW={38.7} xH={19}
        fontSize={13.5} padX={1} padY={4} />
      <Panel left={414} top={440} width={413} height={350}
        series={[sim5NearOrigin, sim5TopLeft, sim5BottomRight, sim5TopRight]}
        xr={[-1, 5, 1]} yr={[-0.5, 4.5, 0.5]} padTop={41.7} padRight={9.7} yW={42.3} xH={19}
        fontSize={12.5} bold padX={1} padY={3} />
      <Caption left={2} top={335} width={406} lines={captionA} />
      <Caption left={414} top={335} width={408} lines={captionB} />
      <Caption left={2} top={805} width={406} lines={captionC} />
      <Caption left={414} top={805} width={408} lines={captionD} />
    </div>
  );
}
